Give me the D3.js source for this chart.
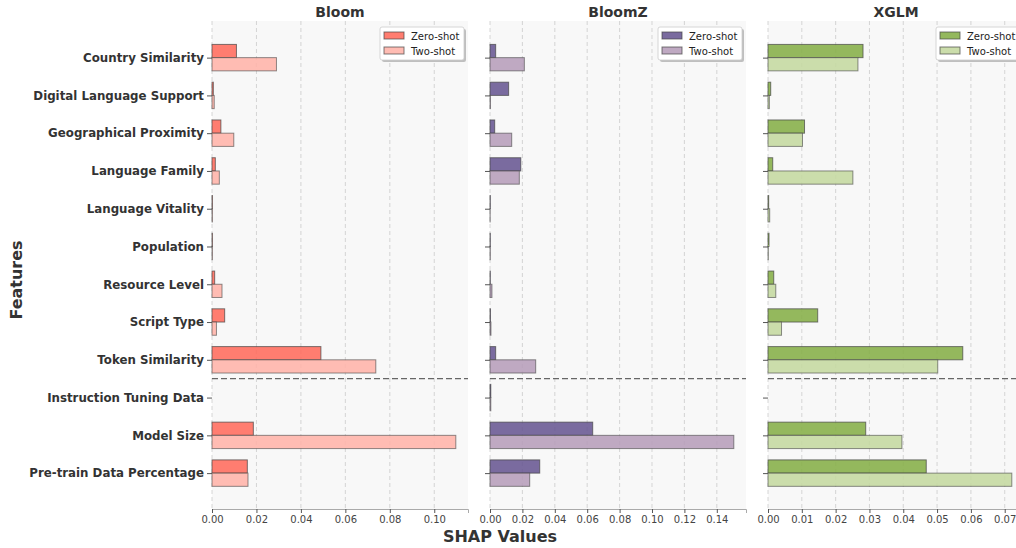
<!DOCTYPE html>
<html>
<head>
<meta charset="utf-8">
<script src="https://cdn.jsdelivr.net/npm/d3@7"></script>
<style>
  body { margin: 0; background: #fff; }
  svg { font-family: "DejaVu Sans", sans-serif; }
</style>
</head>
<body>
<svg id="chart" width="1016" height="548"></svg>
<script>
var features = ["Country Similarity", "Digital Language Support", "Geographical Proximity",
  "Language Family", "Language Vitality", "Population", "Resource Level", "Script Type",
  "Token Similarity", "Instruction Tuning Data", "Model Size", "Pre-train Data Percentage"];

var models = ["Bloom", "BloomZ", "XGLM"];

var bloomZero = [0.011, 0.0006, 0.004, 0.0015, 0.0002, 0.0002, 0.0012, 0.0057, 0.049, 0, 0.0186, 0.0159];
var bloomTwo  = [0.029, 0.001, 0.0098, 0.0033, 0.0002, 0.0002, 0.0045, 0.002, 0.0737, 0, 0.1097, 0.0162];

var bloomzZero = [0.0035, 0.0115, 0.0029, 0.019, 0.0002, 0.0002, 0.0002, 0.0003, 0.0035, 0.0005, 0.0634, 0.0307];
var bloomzTwo  = [0.0212, 0.0003, 0.0134, 0.0181, 0.0001, 0.0002, 0.0012, 0.0006, 0.0282, 0.0005, 0.1505, 0.0245];

var xglmZero = [0.0281, 0.0008, 0.0108, 0.0014, 0.0002, 0.0003, 0.0017, 0.0147, 0.0576, 0, 0.0289, 0.0468];
var xglmTwo  = [0.0266, 0.0004, 0.0102, 0.0251, 0.0005, 0.0001, 0.0023, 0.004, 0.0502, 0, 0.0396, 0.0721];

var tickSteps = [0.02, 0.02, 0.01];
var legendLabels = ["Zero-shot", "Two-shot"];

var zeroColors = ["#FF6F61", "#6B5B95", "#88B04B"];
var twoColors  = ["#FFB5AB", "#B8A0BB", "#C5D9A2"];

var panels = [
  {name: models[0], zero: bloomZero, two: bloomTwo, step: tickSteps[0]},
  {name: models[1], zero: bloomzZero, two: bloomzTwo, step: tickSteps[1]},
  {name: models[2], zero: xglmZero, two: xglmTwo, step: tickSteps[2]}
];

var svg = d3.select("#chart");
var plotTop = 21, plotBottom = 509, panelW = 256;
var lefts = [212, 490, 768];

var y = d3.scaleLinear().domain([-0.97, features.length - 0.05]).range([plotTop, plotBottom]);
var barH = y(0.35) - y(0);

panels.forEach(function (p, k) {
  var x0 = lefts[k];
  var maxVal = d3.max(p.zero.concat(p.two)) * 1.05;
  var x = d3.scaleLinear().domain([0, maxVal]).range([x0, x0 + panelW]);
  var g = svg.append("g");

  g.append("rect")
    .attr("x", x0).attr("y", plotTop)
    .attr("width", panelW).attr("height", plotBottom - plotTop)
    .attr("fill", "#f8f8f8");

  var ticks = d3.range(0, maxVal + 1e-9, p.step);

  // grid lines
  g.selectAll(".grid").data(ticks).enter().append("line")
    .attr("x1", function (d) { return x(d); }).attr("x2", function (d) { return x(d); })
    .attr("y1", plotTop).attr("y2", plotBottom)
    .attr("stroke", "#cccccc").attr("stroke-width", 0.8)
    .attr("stroke-dasharray", "4,3");

  // bars
  g.selectAll(".zero").data(p.zero).enter().append("rect")
    .attr("x", x(0))
    .attr("y", function (d, i) { return y(i) - barH; })
    .attr("width", function (d) { return x(d) - x(0); })
    .attr("height", barH)
    .attr("fill", zeroColors[k]).attr("fill-opacity", 0.9)
    .attr("stroke", "#444").attr("stroke-opacity", 0.7).attr("stroke-width", 1);

  g.selectAll(".two").data(p.two).enter().append("rect")
    .attr("x", x(0))
    .attr("y", function (d, i) { return y(i); })
    .attr("width", function (d) { return x(d) - x(0); })
    .attr("height", barH)
    .attr("fill", twoColors[k]).attr("fill-opacity", 0.9)
    .attr("stroke", "#444").attr("stroke-opacity", 0.6).attr("stroke-width", 1);

  // separator
  g.append("line")
    .attr("x1", x0).attr("x2", x0 + panelW)
    .attr("y1", y(8.5)).attr("y2", y(8.5))
    .attr("stroke", "#666").attr("stroke-width", 1.3)
    .attr("stroke-dasharray", "6,3");

  // x axis
  var xa = g.append("g")
    .attr("transform", "translate(0," + plotBottom + ")")
    .call(d3.axisBottom(x).tickValues(ticks).tickFormat(d3.format(".2f")).tickSize(4));
  xa.select(".domain").attr("stroke", "#aaaaaa");
  xa.selectAll(".tick line").attr("stroke", "#555");
  xa.selectAll("text").attr("font-size", 10).attr("fill", "#444")
    .attr("font-family", "DejaVu Sans");

  // y axis
  var ya = g.append("g")
    .attr("transform", "translate(" + x0 + ",0)")
    .call(d3.axisLeft(y).tickValues(d3.range(features.length))
      .tickFormat(function (i) { return k === 0 ? features[i] : ""; }).tickSize(5));
  ya.select(".domain").remove();
  ya.selectAll(".tick line").attr("stroke", "#555");
  ya.selectAll("text").attr("font-size", 11.8).attr("font-weight", "bold")
    .attr("fill", "#333").attr("font-family", "DejaVu Sans");

  // title
  g.append("text")
    .attr("x", x0 + panelW / 2).attr("y", 17)
    .attr("text-anchor", "middle")
    .attr("font-size", 14).attr("font-weight", "bold").attr("fill", "#333")
    .text(p.name);

  // legend
  var lx = x0 + panelW - 88, ly = 27;
  var lg = g.append("g").attr("transform", "translate(" + lx + "," + ly + ")");
  lg.append("rect").attr("x", 2).attr("y", 2).attr("width", 84).attr("height", 33)
    .attr("rx", 2).attr("fill", "#999").attr("opacity", 0.6);
  lg.append("rect").attr("width", 84).attr("height", 33)
    .attr("rx", 2).attr("fill", "#fff").attr("stroke", "#ccc").attr("stroke-width", 0.8);
  legendLabels.forEach(function (lab, j) {
    lg.append("rect").attr("x", 4).attr("y", 5 + j * 15)
      .attr("width", 20).attr("height", 7)
      .attr("fill", j === 0 ? zeroColors[k] : twoColors[k]).attr("fill-opacity", 0.9)
      .attr("stroke", "#444").attr("stroke-opacity", 0.7);
    lg.append("text").attr("x", 31).attr("y", 12.5 + j * 15)
      .attr("font-size", 10).attr("fill", "#222").text(lab);
  });
});

svg.append("text")
  .attr("transform", "translate(22,280) rotate(-90)")
  .attr("text-anchor", "middle")
  .attr("font-size", 16).attr("font-weight", "bold").attr("fill", "#333")
  .text("Features");

svg.append("text")
  .attr("x", 500).attr("y", 542)
  .attr("text-anchor", "middle")
  .attr("font-size", 16).attr("font-weight", "bold").attr("fill", "#333")
  .text("SHAP Values");
</script>
</body>
</html>
